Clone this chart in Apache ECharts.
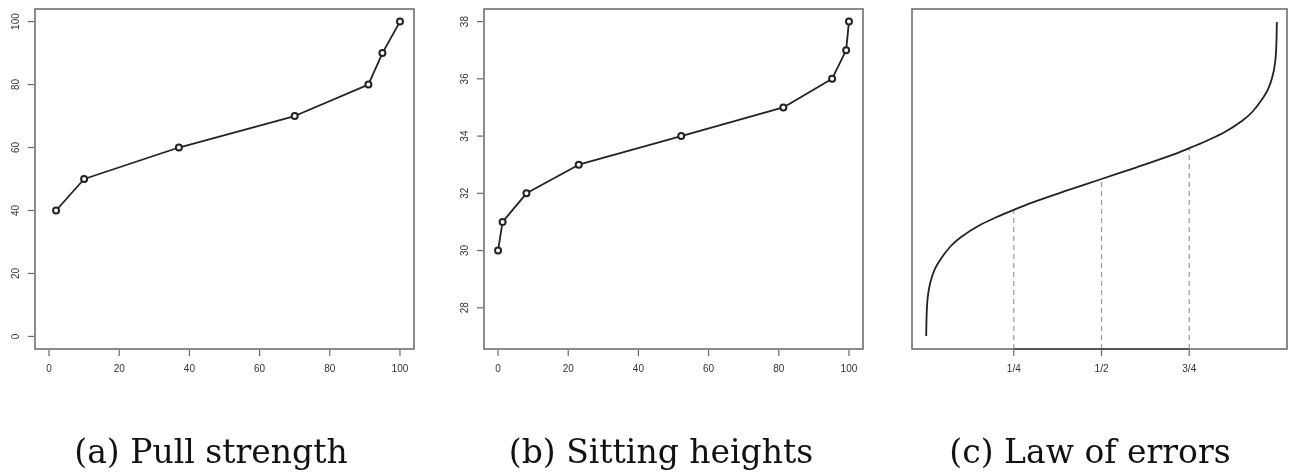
<!DOCTYPE html>
<html>
<head>
<meta charset="utf-8">
<script src="https://cdn.jsdelivr.net/npm/echarts@6/dist/echarts.min.js"></script>
<style>
  html, body { margin: 0; padding: 0; background: #ffffff; }
  #chart { width: 1289px; height: 476px; }
</style>
</head>
<body>
<div id="chart"></div>
<script>
// ---- Data ----
// (a) Pull strength: cumulative percent vs strength
var pullX = [2, 10, 37, 70, 91, 95, 100];
var pullY = [40, 50, 60, 70, 80, 90, 100];
// (b) Sitting heights: cumulative percent vs height
var sitX = [0, 1.3, 8.1, 23, 52.2, 81.3, 95.2, 99.2, 100];
var sitY = [30, 31, 32, 33, 34, 35, 36, 37, 38];
// (c) Law of errors: curve (fraction, deviation)
var lawP = [0.0005, 0.002, 0.005, 0.012, 0.025, 0.045, 0.07, 0.10, 0.15, 0.20, 0.25, 0.30, 0.40, 0.50,
            0.60, 0.70, 0.75, 0.80, 0.85, 0.90, 0.93, 0.955, 0.975, 0.988, 0.995, 0.998, 0.9995];
var lawZ = [-3.36, -2.85, -2.52, -2.22, -1.93, -1.68, -1.44, -1.24, -1.00, -0.82, -0.66, -0.51, -0.25, 0.00,
            0.25, 0.51, 0.66, 0.82, 1.00, 1.24, 1.44, 1.68, 1.93, 2.22, 2.52, 2.85, 3.36];
var quartileP = [0.25, 0.5, 0.75];
var quartileZ = [-0.66, 0.00, 0.66];
var quartileLabels = ['1/4', '1/2', '3/4'];
// tick values
var pctTicks = [0, 20, 40, 60, 80, 100];
var pullYTicks = [0, 20, 40, 60, 80, 100];
var sitYTicks = [28, 30, 32, 34, 36, 38];
var captions = ['(a) Pull strength', '(b) Sitting heights', '(c) Law of errors'];

// axis ranges (R style 4% padding)
var xRangeA = [-4, 104], yRangeA = [-4, 104];
var xRangeB = [-4, 104], yRangeB = [26.56, 38.44];
var xRangeC = [-0.04, 1.0285], yRangeC = [-3.64, 3.64];

// ---- Chart ----
var chart = echarts.init(document.getElementById('chart'), null, { renderer: 'canvas' });

var LINE = '#222222';
var BOX = '#666666';
var TICK = '#444444';
var LABEL_FONT = { fontFamily: 'Liberation Sans, Arial, sans-serif', fontSize: 10, color: '#333333' };

function zip(a, b) { return a.map(function (v, i) { return [v, b[i]]; }); }

function xAxisDef(idx, range, ticks, fmt) {
  return {
    type: 'value', gridIndex: idx, min: range[0], max: range[1],
    axisLine: { show: false, onZero: false },
    splitLine: { show: false },
    axisTick: { show: false },
    axisLabel: Object.assign({ show: true, customValues: ticks, margin: 15, formatter: fmt }, LABEL_FONT)
  };
}
function yAxisDef(idx, range, ticks) {
  if (!ticks) {
    return { type: 'value', gridIndex: idx, min: range[0], max: range[1],
             axisLine: { show: false, onZero: false },
             splitLine: { show: false }, axisTick: { show: false }, axisLabel: { show: false } };
  }
  return {
    type: 'value', gridIndex: idx, min: range[0], max: range[1],
    axisLine: { show: false, onZero: false },
    splitLine: { show: false },
    axisTick: { show: false },
    axisLabel: Object.assign({ show: true, customValues: ticks, rotate: 90, margin: 14 }, LABEL_FONT)
  };
}

// tick marks drawn from the tick arrays through the axes' scales
function xTickSeries(idx, ticks, yMin) {
  return {
    type: 'scatter', xAxisIndex: idx, yAxisIndex: idx,
    data: ticks.map(function (t) { return [t, yMin]; }),
    symbol: 'rect', symbolSize: [1.2, 6], symbolOffset: [0, 4],
    itemStyle: { color: TICK }, clip: false, silent: true, animation: false, z: 4
  };
}
function yTickSeries(idx, ticks, xMin) {
  return {
    type: 'scatter', xAxisIndex: idx, yAxisIndex: idx,
    data: ticks.map(function (t) { return [xMin, t]; }),
    symbol: 'rect', symbolSize: [6, 1.2], symbolOffset: [-4, 0],
    itemStyle: { color: TICK }, clip: false, silent: true, animation: false, z: 4
  };
}

var gridStyle = { show: true, borderColor: BOX, borderWidth: 1.5, backgroundColor: 'transparent' };

var series = [
  {
    type: 'line', xAxisIndex: 0, yAxisIndex: 0, data: zip(pullX, pullY),
    symbol: 'emptyCircle', symbolSize: 6, showSymbol: true,
    lineStyle: { color: LINE, width: 1.8 },
    itemStyle: { color: LINE, borderColor: LINE, borderWidth: 1.4 },
    animation: false, silent: true
  },
  {
    type: 'line', xAxisIndex: 1, yAxisIndex: 1, data: zip(sitX, sitY),
    symbol: 'emptyCircle', symbolSize: 6, showSymbol: true,
    lineStyle: { color: LINE, width: 1.8 },
    itemStyle: { color: LINE, borderColor: LINE, borderWidth: 1.4 },
    animation: false, silent: true
  },
  {
    type: 'line', xAxisIndex: 2, yAxisIndex: 2, data: zip(lawP, lawZ),
    symbol: 'none', smooth: 0.35,
    lineStyle: { color: LINE, width: 1.8 },
    animation: false, silent: true
  },
  xTickSeries(0, pctTicks, yRangeA[0]),
  yTickSeries(0, pullYTicks, xRangeA[0]),
  xTickSeries(1, pctTicks, yRangeB[0]),
  yTickSeries(1, sitYTicks, xRangeB[0]),
  xTickSeries(2, quartileP, yRangeC[0])
];
// dashed quartile drops
quartileP.forEach(function (p, i) {
  series.push({
    type: 'line', xAxisIndex: 2, yAxisIndex: 2,
    data: [[p, yRangeC[0]], [p, quartileZ[i]]],
    symbol: 'none',
    lineStyle: { color: '#9a9a9a', width: 1.2, type: [5, 4] },
    animation: false, silent: true, z: 1
  });
});
// axis line between the first and last quartile tick
series.push({
  type: 'line', xAxisIndex: 2, yAxisIndex: 2,
  data: [[quartileP[0], yRangeC[0]], [quartileP[2], yRangeC[0]]],
  symbol: 'none', clip: false,
  lineStyle: { color: '#444444', width: 1.5 },
  animation: false, silent: true, z: 3
});

var capX = [211, 661, 1090];
var graphics = captions.map(function (t, i) {
  return {
    type: 'text', x: capX[i], y: 454,
    style: {
      text: t,
      font: 'normal 33px "DejaVu Serif", "Liberation Serif", serif',
      fill: '#111111', align: 'center', verticalAlign: 'middle'
    },
    silent: true
  };
});

chart.setOption({
  animation: false,
  backgroundColor: '#ffffff',
  grid: [
    Object.assign({ left: 35, top: 9, width: 379, height: 340 }, gridStyle),
    Object.assign({ left: 484, top: 9, width: 379, height: 340 }, gridStyle),
    Object.assign({ left: 912, top: 9, width: 375, height: 340 }, gridStyle)
  ],
  xAxis: [
    xAxisDef(0, xRangeA, pctTicks),
    xAxisDef(1, xRangeB, pctTicks),
    xAxisDef(2, xRangeC, quartileP, function (v) {
      var k = quartileP.indexOf(v);
      return k >= 0 ? quartileLabels[k] : '';
    })
  ],
  yAxis: [
    yAxisDef(0, yRangeA, pullYTicks),
    yAxisDef(1, yRangeB, sitYTicks),
    yAxisDef(2, yRangeC, null)
  ],
  series: series,
  graphic: graphics
});
</script>
</body>
</html>
